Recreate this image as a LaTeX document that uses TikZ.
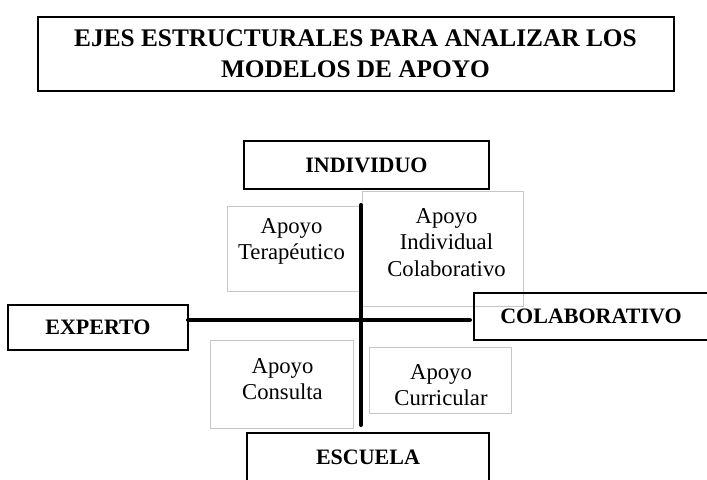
\documentclass[tikz,border=0pt]{standalone}
\usepackage{fontspec}
\setmainfont{Liberation Serif}
\usetikzlibrary{calc}
\tikzset{title box/.style={draw,line width=1.5pt,minimum width=477pt,minimum height=55pt,align=center,font=\bfseries\fontsize{19}{23}\selectfont}}
\tikzset{axis box/.style={draw,line width=1.5pt,inner sep=1mm,outer sep=0pt,font=\bfseries\fontsize{16.5}{19}\selectfont}}
\tikzset{quad box/.style={draw=black!22,line width=0.6pt}}
\tikzset{quad text/.style={align=center,inner sep=0pt,font=\fontsize{17}{20}\selectfont}}
\tikzset{axis line/.style={line width=3pt,line cap=round}}

\begin{document}
\begin{tikzpicture}[x=0.75pt,y=-0.75pt]
                    \useasboundingbox (0,0) rectangle (707,479);

                    \node[title box](TITLE) at (355.5,54){EJES ESTRUCTURALES PARA ANALIZAR LOS\\MODELOS DE APOYO};

                    \node[quad box,minimum width=99.75pt,minimum height=63.75pt](TERAP) at (293.5,248.5){};
                    \node[quad box,minimum width=120.75pt,minimum height=86.25pt](INDCOL) at (442.5,248.5){};
                    \node[quad box,minimum width=107.25pt,minimum height=66pt](CONSUL) at (281.5,384){};
                    \node[quad box,minimum width=106.5pt,minimum height=49.5pt](CURRIC) at (440,380){};

                    \node[quad text](TERAPtxt) at ($(TERAP)+(-2,-7)$){Apoyo\\Terapéutico};
                    \node[quad text](INDCOLtxt) at ($(INDCOL)+(4,-6)$){Apoyo\\Individual\\Colaborativo};
                    \node[quad text](CONSULtxt) at ($(CONSUL)+(1,-5)$){Apoyo\\Consulta};
                    \node[quad text](CURRICtxt) at ($(CURRIC)+(1,5)$){Apoyo\\Curricular};

                    \node[axis box,minimum width=183.75pt,minimum height=36pt](INDIV) at (366.5,165){INDIVIDUO};
                    \node[axis box,minimum width=135pt,minimum height=33.75pt](EXPERT) at (98,327.5){EXPERTO};
                    \node[axis box,minimum width=176pt,minimum height=35.25pt](COLAB) at (591,316.5){COLABORATIVO};
                    \node[axis box,minimum width=181.5pt,minimum height=36pt](ESCUE) at (368,457){ESCUELA};

                    \coordinate (vtop) at (361,205);
                    \coordinate (vbot) at (361,425);
                    \coordinate (hleft) at (EXPERT.east |- 0,320);
                    \coordinate (hright) at (470,320);

                    \draw[axis line] (vtop) -- (vbot);
                    \draw[axis line] (hleft) -- (hright);

                \end{tikzpicture}
\end{document}
